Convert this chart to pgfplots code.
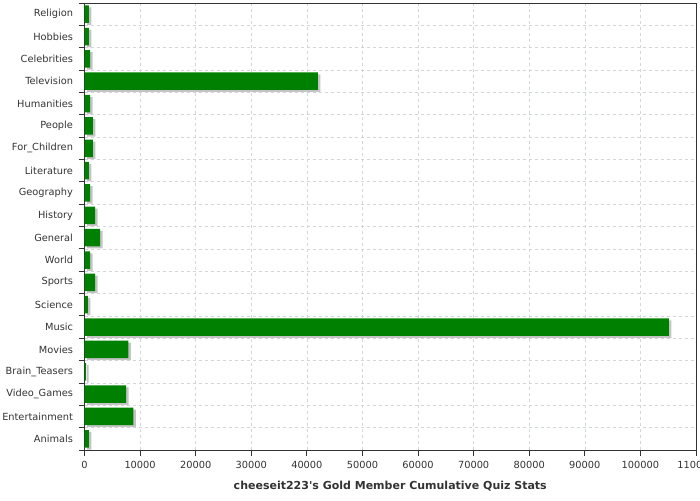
\documentclass[border=0pt]{standalone}
\usepackage{pgfplots}
\pgfplotsset{compat=1.18}
\usepackage{fontspec}
\setmainfont{DejaVu Sans}[Ligatures=TeXOff]
\definecolor{txt}{HTML}{333333}
\definecolor{barg}{HTML}{008000}
\definecolor{shad}{HTML}{C4C4C4}
\definecolor{gridc}{HTML}{D0D6DA}
\begin{document}
\begin{tikzpicture}
\path[use as bounding box] (0,0) rectangle (700pt,500pt);
\begin{axis}[
  at={(84.5pt,50pt)}, anchor=south west,
  scale only axis, width=611.5pt, height=447pt,
  xmin=0, xmax=110000, ymin=-0.5, ymax=19.5,
  xbar, bar width=17.5pt, bar shift=0pt,
  /pgf/number format/assume math mode=true,
  scaled x ticks=false,
  xtick={0,10000,...,110000},
  xticklabel={\pgfmathprintnumber[fixed,1000 sep={}]{\tick}},
  ytick={-0.5,0.5,...,19.5},
  yticklabels={},
  extra y ticks={0,...,19},
  extra y tick labels={Animals,Entertainment,Video\_Games,Brain\_Teasers,Movies,Music,Science,Sports,World,General,History,Geography,Literature,For\_Children,People,Humanities,Television,Celebrities,Hobbies,Religion},
  extra y tick style={major tick length=0pt, grid=none, yticklabel style={xshift=-8pt}},
  ytick pos=left, xtick pos=bottom,
  grid=major,
  grid style={gridc, dashed, line width=0.6pt},
  tick align=outside,
  major tick length=6pt,
  tick style={draw=txt, line width=0.8pt},
  axis line style={txt, line width=0.8pt},
  tick label style={font=\fontsize{9.8}{11}\selectfont, text=txt},
  xticklabel style={yshift=-2pt},
  xlabel={\bfseries cheeseit223's Gold Member Cumulative Quiz Stats},
  xlabel style={font=\fontsize{11}{13}\selectfont, text=txt, yshift=-5pt},
]
\addplot[fill=shad, draw=none, xshift=2.5pt, yshift=-2pt] coordinates {
(800,0) (8800,1) (7500,2) (300,3) (7900,4) (105100,5) (600,6) (1900,7) (1000,8) (2800,9) (1900,10) (1000,11) (800,12) (1500,13) (1500,14) (1000,15) (42000,16) (1000,17) (800,18) (800,19)};
\addplot[fill=barg, draw=none] coordinates {
(800,0) (8800,1) (7500,2) (300,3) (7900,4) (105100,5) (600,6) (1900,7) (1000,8) (2800,9) (1900,10) (1000,11) (800,12) (1500,13) (1500,14) (1000,15) (42000,16) (1000,17) (800,18) (800,19)};
\end{axis}
\end{tikzpicture}
\end{document}
